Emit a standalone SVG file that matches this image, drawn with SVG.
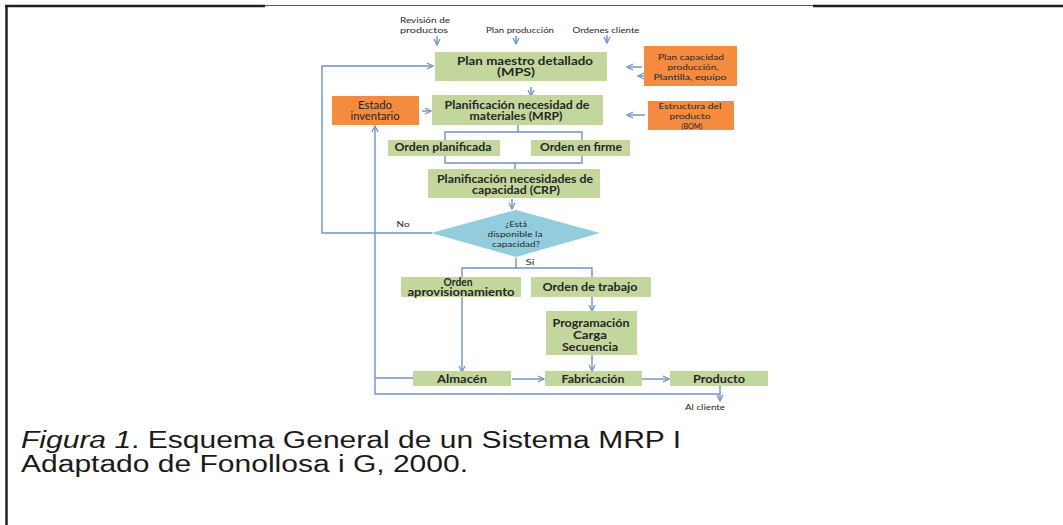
<svg xmlns="http://www.w3.org/2000/svg" width="1063" height="525" viewBox="0 0 1063 525">
  <style>
    .box { fill: #c3d69b; }
    .org { fill: #f58b3f; }
    .dia { fill: #93cddd; }
    .ln { fill: none; stroke: #6e93c7; stroke-width: 1.4; }
    .t { font-family: Lato, "Liberation Sans", sans-serif; fill: #262626; text-anchor: middle; }
    .m { font-size: 10.5px; font-weight: bold; }
    .s { font-size: 8px; }
    .cap { font-family: "Liberation Sans", Arial, sans-serif; font-size: 23px; fill: #1a1a1a; }
  </style>
  <defs>
    <marker id="ah" viewBox="0 0 8 8" refX="7" refY="4" markerWidth="8" markerHeight="8" markerUnits="userSpaceOnUse" orient="auto">
      <path d="M1,1 L7,4 L1,7" fill="none" stroke="#6e93c7" stroke-width="1.3"/>
    </marker>
  </defs>

  <rect width="1063" height="525" fill="#ffffff"/>

  <!-- page frame -->
  <g id="frame">
    <line x1="265" y1="5.5" x2="813" y2="5.5" stroke="#555" stroke-width="1"/>
    <line x1="5" y1="6" x2="265" y2="6" stroke="#231f20" stroke-width="2.5"/>
    <line x1="813" y1="6" x2="1063" y2="6" stroke="#231f20" stroke-width="2.5"/>
    <line x1="6.5" y1="5" x2="6.5" y2="525" stroke="#231f20" stroke-width="2.5"/>
  </g>

  <!-- connectors -->
  <g id="connectors" class="ln">
    <line x1="437" y1="36" x2="437" y2="45" marker-end="url(#ah)"/>
    <line x1="516" y1="36" x2="516" y2="44" marker-end="url(#ah)"/>
    <line x1="607" y1="35" x2="607" y2="43" marker-end="url(#ah)"/>
    <polyline points="432,233 322,233 322,66 433,66" marker-end="url(#ah)"/>
    <line x1="642" y1="67" x2="627" y2="67" marker-end="url(#ah)"/>
    <line x1="652" y1="76" x2="638" y2="76" marker-end="url(#ah)"/>
    <line x1="531" y1="87" x2="531" y2="96" marker-end="url(#ah)"/>
    <line x1="422" y1="111" x2="431" y2="111" marker-end="url(#ah)"/>
    <line x1="645" y1="115" x2="627" y2="115" marker-end="url(#ah)"/>
    <polyline points="518,125 518,132"/>
    <polyline points="445,140 445,132 582,132 582,140"/>
    <polyline points="445,156 445,163 582,163 582,156"/>
    <polyline points="515,163 515,169"/>
    <line x1="512" y1="199" x2="512" y2="209" marker-end="url(#ah)"/>
    <polyline points="516,258 516,268"/>
    <polyline points="462,277 462,268 592,268 592,277"/>
    <line x1="462" y1="297" x2="462" y2="372" marker-end="url(#ah)"/>
    <line x1="592" y1="297" x2="592" y2="311" marker-end="url(#ah)"/>
    <line x1="592" y1="355" x2="592" y2="371" marker-end="url(#ah)"/>
    <line x1="512" y1="379" x2="544" y2="379" marker-end="url(#ah)"/>
    <line x1="642" y1="379" x2="669" y2="379" marker-end="url(#ah)"/>
    <polyline points="413,378 375,378"/>
    <polyline points="720,394 375,394 375,126" marker-end="url(#ah)"/>
    <line x1="720" y1="386" x2="720" y2="401" marker-end="url(#ah)"/>
  </g>

  <!-- inputs -->
  <g id="inputs" class="t s">
    <text x="425" y="23" textLength="50" lengthAdjust="spacingAndGlyphs">Revisión de</text>
    <text x="424" y="33" textLength="48" lengthAdjust="spacingAndGlyphs">productos</text>
    <text x="520" y="33" textLength="68" lengthAdjust="spacingAndGlyphs">Plan producción</text>
    <text x="606" y="33" textLength="67" lengthAdjust="spacingAndGlyphs">Ordenes cliente</text>
  </g>

  <g id="mps">
    <rect class="box" x="435" y="52" width="172" height="29"/>
    <text class="t m" x="525" y="65" textLength="136" lengthAdjust="spacingAndGlyphs">Plan maestro detallado</text>
    <text class="t m" x="516" y="76" textLength="38" lengthAdjust="spacingAndGlyphs">(MPS)</text>
  </g>

  <g id="plan-capacidad">
    <rect class="org" x="644" y="46" width="93" height="40"/>
    <text class="t s" x="691" y="60" textLength="66" lengthAdjust="spacingAndGlyphs">Plan capacidad</text>
    <text class="t s" x="693" y="70" textLength="51" lengthAdjust="spacingAndGlyphs">producción,</text>
    <text class="t s" x="690" y="80" textLength="73" lengthAdjust="spacingAndGlyphs">Plantilla, equipo</text>
  </g>

  <g id="estado-inventario">
    <rect class="org" x="332" y="96" width="87" height="29"/>
    <text class="t m" x="375" y="109" style="font-weight:normal" textLength="34" lengthAdjust="spacingAndGlyphs">Estado</text>
    <text class="t m" x="375" y="120" style="font-weight:normal" textLength="49" lengthAdjust="spacingAndGlyphs">inventario</text>
  </g>

  <g id="mrp">
    <rect class="box" x="432" y="95" width="171" height="30"/>
    <text class="t m" x="517" y="109" textLength="145" lengthAdjust="spacingAndGlyphs">Planificación necesidad de</text>
    <text class="t m" x="516" y="120" textLength="93" lengthAdjust="spacingAndGlyphs">materiales (MRP)</text>
  </g>

  <g id="bom">
    <rect class="org" x="648" y="101" width="86" height="29"/>
    <text class="t s" x="690" y="109" textLength="63" lengthAdjust="spacingAndGlyphs">Estructura del</text>
    <text class="t s" x="690" y="119" textLength="41" lengthAdjust="spacingAndGlyphs">producto</text>
    <text class="t s" x="692" y="129" textLength="21" lengthAdjust="spacingAndGlyphs">(BOM)</text>
  </g>

  <g id="orden-planificada">
    <rect class="box" x="388" y="140" width="112" height="16"/>
    <text class="t m" x="443" y="151" textLength="97" lengthAdjust="spacingAndGlyphs">Orden planificada</text>
  </g>

  <g id="orden-firme">
    <rect class="box" x="531" y="140" width="99" height="16"/>
    <text class="t m" x="581" y="151" textLength="82" lengthAdjust="spacingAndGlyphs">Orden en firme</text>
  </g>

  <g id="crp">
    <rect class="box" x="428" y="169" width="172" height="29"/>
    <text class="t m" x="515" y="183" textLength="156" lengthAdjust="spacingAndGlyphs">Planificación necesidades de</text>
    <text class="t m" x="516" y="194" textLength="88" lengthAdjust="spacingAndGlyphs">capacidad (CRP)</text>
  </g>

  <g id="decision">
    <polygon class="dia" points="516,210 600,233 516,257 431,233"/>
    <text class="t s" x="516" y="227" textLength="22" lengthAdjust="spacingAndGlyphs">¿Está</text>
    <text class="t s" x="515" y="237" textLength="55" lengthAdjust="spacingAndGlyphs">disponible la</text>
    <text class="t s" x="516" y="247" textLength="48" lengthAdjust="spacingAndGlyphs">capacidad?</text>
    <text class="t s" x="403" y="227" textLength="13" lengthAdjust="spacingAndGlyphs">No</text>
    <text class="t s" x="530" y="265" textLength="9" lengthAdjust="spacingAndGlyphs">Si</text>
  </g>

  <g id="orden-aprovisionamiento">
    <rect class="box" x="401" y="277" width="120" height="20"/>
    <text class="t m" x="458" y="286" textLength="29" lengthAdjust="spacingAndGlyphs">Orden</text>
    <text class="t m" x="461" y="296" textLength="107" lengthAdjust="spacingAndGlyphs">aprovisionamiento</text>
  </g>

  <g id="orden-trabajo">
    <rect class="box" x="531" y="277" width="120" height="20"/>
    <text class="t m" x="590" y="291" textLength="95" lengthAdjust="spacingAndGlyphs">Orden de trabajo</text>
  </g>

  <g id="programacion">
    <rect class="box" x="546" y="311" width="91" height="44"/>
    <text class="t m" x="591" y="327" textLength="77" lengthAdjust="spacingAndGlyphs">Programación</text>
    <text class="t m" x="590" y="339" textLength="34" lengthAdjust="spacingAndGlyphs">Carga</text>
    <text class="t m" x="590" y="351" textLength="56" lengthAdjust="spacingAndGlyphs">Secuencia</text>
  </g>

  <g id="almacen">
    <rect class="box" x="413" y="371" width="98" height="15"/>
    <text class="t m" x="462" y="383" textLength="50" lengthAdjust="spacingAndGlyphs">Almacén</text>
  </g>

  <g id="fabricacion">
    <rect class="box" x="545" y="371" width="97" height="15"/>
    <text class="t m" x="593" y="383" textLength="63" lengthAdjust="spacingAndGlyphs">Fabricación</text>
  </g>

  <g id="producto">
    <rect class="box" x="670" y="371" width="98" height="15"/>
    <text class="t m" x="719" y="383" textLength="52" lengthAdjust="spacingAndGlyphs">Producto</text>
  </g>

  <g id="al-cliente">
    <text class="t s" x="705" y="410" textLength="40" lengthAdjust="spacingAndGlyphs">Al cliente</text>
  </g>

  <!-- caption -->
  <g id="caption" class="cap">
    <text x="21" y="448" textLength="660" lengthAdjust="spacingAndGlyphs"><tspan font-style="italic">Figura 1</tspan>. Esquema General de un Sistema MRP I</text>
    <text x="21" y="472" textLength="447" lengthAdjust="spacingAndGlyphs">Adaptado de Fonollosa i G, 2000.</text>
  </g>
</svg>
